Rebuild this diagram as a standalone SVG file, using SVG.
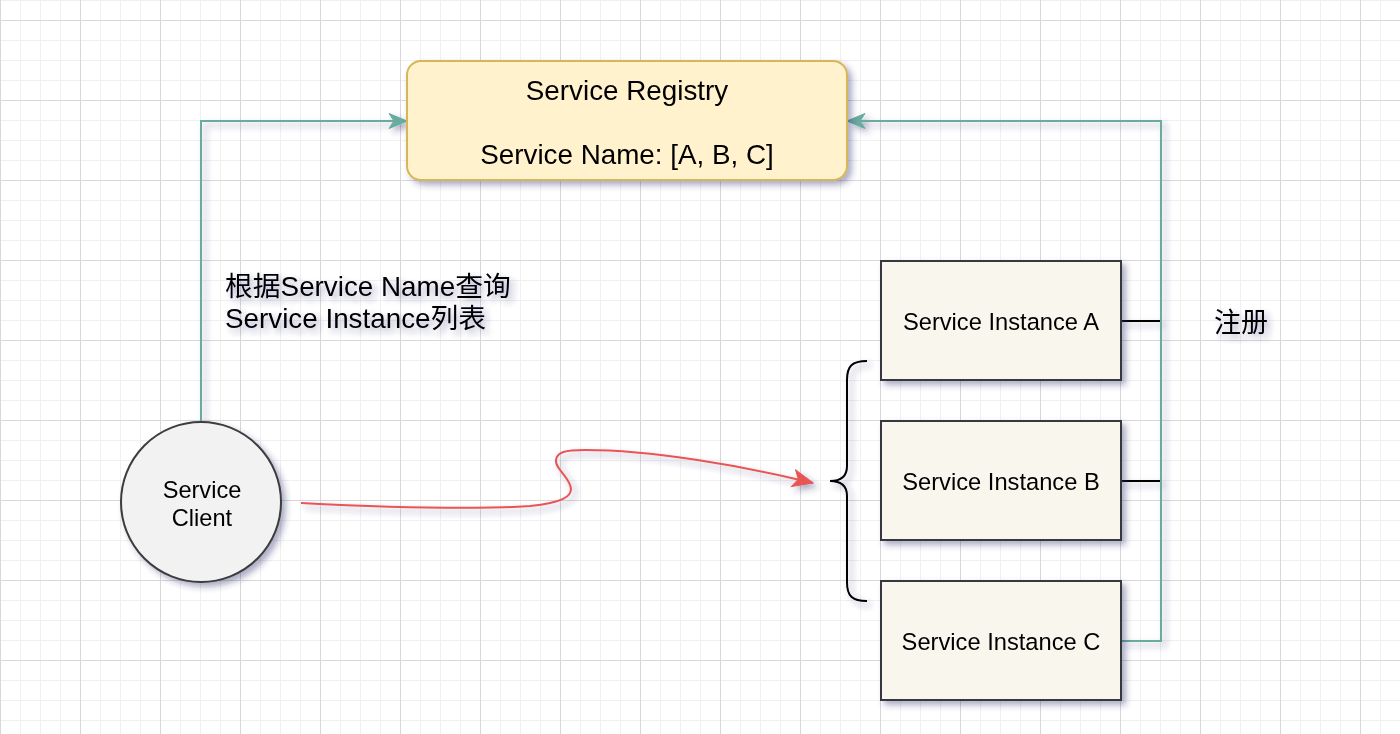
<svg xmlns="http://www.w3.org/2000/svg" width="1400" height="734" viewBox="0 0 1400 734">
  <defs>
    <pattern id="grid" x="0" y="20" width="80" height="80" patternUnits="userSpaceOnUse">
      <rect x="0" y="0" width="80" height="80" fill="#ffffff"/>
      <g fill="#f0f0f0">
        <rect x="20" y="0" width="1" height="80"/>
        <rect x="40" y="0" width="1" height="80"/>
        <rect x="60" y="0" width="1" height="80"/>
        <rect x="0" y="20" width="80" height="1"/>
        <rect x="0" y="40" width="80" height="1"/>
        <rect x="0" y="60" width="80" height="1"/>
      </g>
      <g fill="#d8d8d8">
        <rect x="0" y="0" width="1" height="80"/>
        <rect x="0" y="0" width="80" height="1"/>
      </g>
    </pattern>
    <filter id="shadow" x="-20%" y="-20%" width="140%" height="140%">
      <feDropShadow dx="4" dy="4" stdDeviation="3" flood-color="#2e2e6e" flood-opacity="0.4"/>
    </filter>
    <marker id="arrowGreen" viewBox="0 0 20 18" refX="19" refY="9" markerWidth="20" markerHeight="18" markerUnits="userSpaceOnUse" orient="auto">
      <path d="M1,1.5 L19,9 L1,16.5 L6,9 Z" fill="#67ab9f" stroke="#67ab9f" stroke-width="1"/>
    </marker>
    <marker id="arrowRed" viewBox="0 0 22 20" refX="21" refY="10" markerWidth="22" markerHeight="20" markerUnits="userSpaceOnUse" orient="auto">
      <path d="M1,1.5 L21,10 L1,18.5 L6,10 Z" fill="#e85555" stroke="#e85555" stroke-width="1"/>
    </marker>
    <style>
      .txt { font-family: "Liberation Sans", "Noto Sans CJK SC", sans-serif; fill: #000000; }
      .inst { fill: #f9f7ed; stroke: #36393d; stroke-width: 2; }
      .green { fill: none; stroke: #67ab9f; stroke-width: 2; }
      .black { fill: none; stroke: #000000; stroke-width: 2; }
      .red { fill: none; stroke: #e85555; stroke-width: 2; }
    </style>
  </defs>

  <rect x="0" y="0" width="1400" height="734" fill="url(#grid)"/>

  <g id="connectors" filter="url(#shadow)">
    <path class="green" d="M201,422 L201,121 L407,121" marker-end="url(#arrowGreen)"/>
    <path class="black" d="M1121,321 L1161,321"/>
    <path class="black" d="M1121,481 L1161,481"/>
    <path class="green" d="M1121,641 L1161,641 L1161,121 L847,121" marker-end="url(#arrowGreen)"/>
    <path class="red" d="M301,503 C380,507 470,510 530,506 C560,503 575,497 570,485 C566,474 555,468 556,460 C557,452 565,450 585,450 C650,450 740,465 813,483" marker-end="url(#arrowRed)"/>
  </g>

  <g id="registry" filter="url(#shadow)">
    <rect x="407" y="61" width="440" height="119" rx="14" ry="14" fill="#fff2cc" stroke="#d6b656" stroke-width="2"/>
    <text class="txt" x="627" y="100" font-size="27.8" text-anchor="middle">Service Registry</text>
    <text class="txt" x="627" y="164" font-size="27.8" text-anchor="middle">Service Name: [A, B, C]</text>
  </g>

  <g id="query-label" filter="url(#shadow)">
    <text class="txt" x="225" y="296" font-size="27.8">根据Service Name查询</text>
    <text class="txt" x="225" y="328" font-size="27.8">Service Instance列表</text>
  </g>

  <g id="register-label" filter="url(#shadow)">
    <text class="txt" x="1214" y="332" font-size="27">注册</text>
  </g>

  <g id="client" filter="url(#shadow)">
    <circle cx="201" cy="502" r="80" fill="#f2f2f2" stroke="#3c3c3c" stroke-width="2"/>
    <text class="txt" x="202" y="498" font-size="23.6" text-anchor="middle" fill="#222">Service</text>
    <text class="txt" x="202" y="526" font-size="23.6" text-anchor="middle" fill="#222">Client</text>
  </g>

  <g id="brace" filter="url(#shadow)">
    <path class="black" d="M867,361 C852,361 847,366 847,380 L847,466 C847,476 842,481 830,481 C842,481 847,486 847,496 L847,582 C847,596 852,601 867,601"/>
  </g>

  <g id="instance-a" filter="url(#shadow)">
    <rect class="inst" x="881" y="261" width="240" height="119"/>
    <text class="txt" x="1001" y="330" font-size="23.7" text-anchor="middle">Service Instance A</text>
  </g>

  <g id="instance-b" filter="url(#shadow)">
    <rect class="inst" x="881" y="421" width="240" height="119"/>
    <text class="txt" x="1001" y="490" font-size="23.7" text-anchor="middle">Service Instance B</text>
  </g>

  <g id="instance-c" filter="url(#shadow)">
    <rect class="inst" x="881" y="581" width="240" height="119"/>
    <text class="txt" x="1001" y="650" font-size="23.7" text-anchor="middle">Service Instance C</text>
  </g>
</svg>
